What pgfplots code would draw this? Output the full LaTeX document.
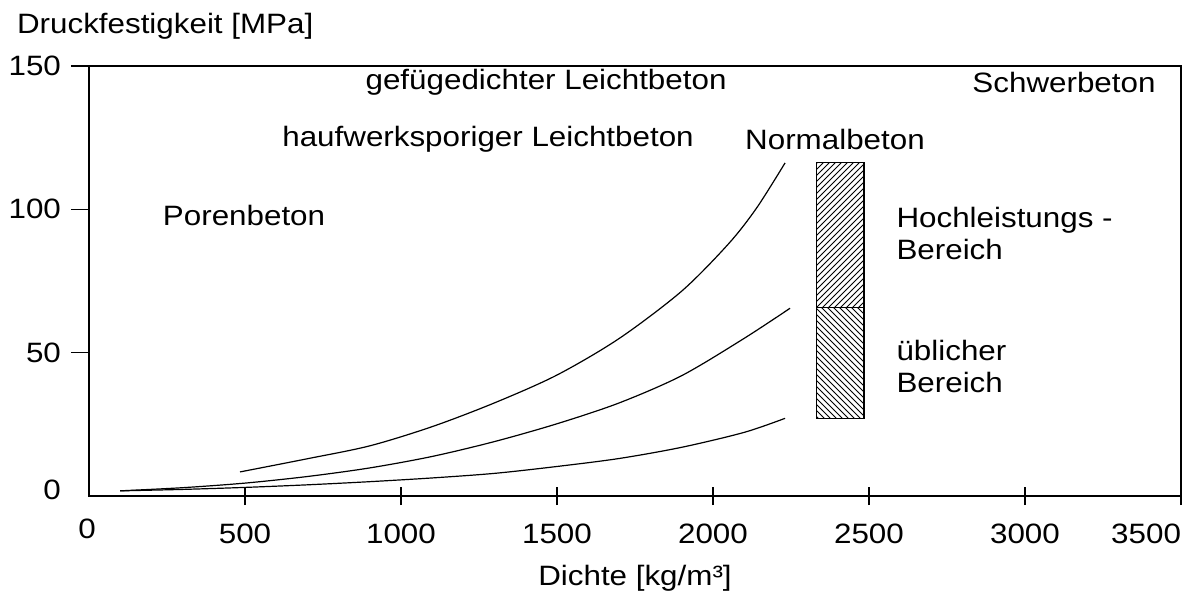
\documentclass[border=0pt]{standalone}
\usepackage{fontspec}
\setmainfont{Liberation Sans}[FakeStretch=1.12]
\usepackage{pgfplots}
\pgfplotsset{compat=1.18}
\usetikzlibrary{patterns}
\begin{document}
\begin{tikzpicture}[font=\fontsize{14}{16}\selectfont]
\path[use as bounding box] (-44.5pt,-47pt) rectangle (550.5pt,248pt);
\begin{axis}[
  at={(0pt,0pt)}, anchor=south west,
  width=546pt, height=215pt, scale only axis,
  xmin=0, xmax=3500, ymin=0, ymax=150,
  clip=false,
  tick pos=left,
  xtick={500,1000,...,3500}, ytick={50,100,150},
  xticklabels={500,1000,1500,2000,2500,3000,3500\hphantom{3500}},
  extra x ticks={0}, extra y ticks={0},
  extra x tick labels={0}, extra y tick labels={0},
  extra x tick style={tick style={draw=none}, xticklabel style={yshift=2.5pt, xshift=-1pt}},
  extra y tick style={tick style={draw=none}, yticklabel style={yshift=3pt}},
  scaled x ticks=false, scaled y ticks=false,
  /pgf/number format/1000 sep={},
  /pgf/number format/assume math mode=true,
  tick align=center, major tick length=9pt,
  major y tick style={xshift=-4.5pt},
  axis line style={line width=0.7pt},
  every tick/.style={black, line width=0.6pt},
  xticklabel style={font=\fontsize{14}{16}\selectfont, yshift=-6pt},
  yticklabel style={font=\fontsize{14}{16}\selectfont, xshift=-6pt},
  xlabel={Dichte [kg/m³]},
  every axis x label/.style={at={(axis description cs:0.5,0)}, anchor=center, yshift=-41pt},
  ylabel={Druckfestigkeit [MPa]},
  every axis y label/.style={at={(axis description cs:0,1)}, anchor=west, xshift=-39.5pt, yshift=20pt},
]
% lower curve
\addplot[black, line width=0.6pt, smooth] coordinates {
 (100,1.8) (300,2.3) (500,3.0) (700,3.9) (900,5.0) (1100,6.3) (1300,7.9)
 (1500,10.3) (1700,13.1) (1900,17.0) (2100,22.2) (2231,27.1)};
% middle curve
\addplot[black, line width=0.6pt, smooth] coordinates {
 (100,1.8) (300,2.9) (500,4.5) (700,6.8) (900,9.8) (1100,13.8) (1300,19.0)
 (1500,25.2) (1700,32.5) (1900,42.0) (2100,55.0) (2247,65.5)};
% upper curve
\addplot[black, line width=0.6pt, smooth] coordinates {
 (484,8.4) (700,13.0) (900,17.5) (1100,24.2) (1300,32.5) (1500,42.2)
 (1700,55.0) (1900,71.5) (2050,88.0) (2140,100.5) (2231,116.2)};
% hatched ranges
\addplot[draw=black, line width=0.6pt, pattern=north west lines] coordinates {
 (2333,27.1) (2484,27.1) (2484,65.8) (2333,65.8)} -- cycle;
\addplot[draw=black, line width=0.6pt, pattern=north east lines] coordinates {
 (2333,65.8) (2484,65.8) (2484,116.3) (2333,116.3)} -- cycle;
% labels
\node[anchor=center, inner sep=0pt] at (axis cs:1465,144.4) {gefügedichter Leichtbeton};
\node[anchor=center, inner sep=0pt] at (axis cs:1279,124.5) {haufwerksporiger Leichtbeton};
\node[anchor=center, inner sep=0pt] at (axis cs:497,98.0) {Porenbeton};
\node[anchor=center, inner sep=0pt] at (axis cs:2391,124.5) {Normalbeton};
\node[anchor=center, inner sep=0pt] at (axis cs:3125,144.4) {Schwerbeton};
\node[anchor=west, align=left, inner sep=0pt] at (axis cs:2587,91.4) {Hochleistungs -\\Bereich};
\node[anchor=west, align=left, inner sep=0pt] at (axis cs:2587,45.3) {üblicher\\Bereich};
\end{axis}
\end{tikzpicture}
\end{document}
